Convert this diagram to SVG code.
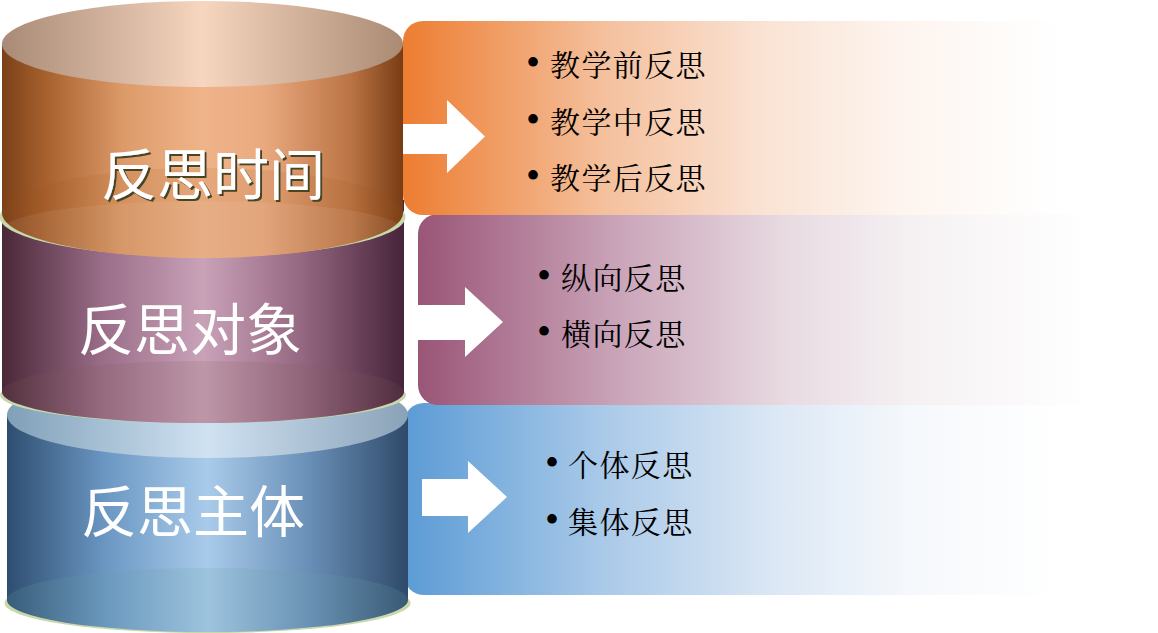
<svg xmlns="http://www.w3.org/2000/svg" width="1158" height="633" viewBox="0 0 1158 633">
<defs>
<style>
.lbl{font-family:"Noto Sans CJK SC","Noto Sans CJK JP",sans-serif;font-size:56px;fill:#ffffff;text-anchor:middle}
.item{font-family:"Liberation Serif","Noto Serif CJK SC","Noto Sans CJK SC",serif;font-size:40px;fill:#000000}
.item tspan{font-size:30px;letter-spacing:1.4px}
.rim{fill:#c9d8aa}
.arrow{fill:#ffffff}
</style>
<filter id="shd" x="-10%" y="-20%" width="130%" height="150%">
<feDropShadow dx="2" dy="2" stdDeviation="0.6" flood-color="#4a4520" flood-opacity="1"/>
</filter>
<linearGradient id="gOB" gradientUnits="userSpaceOnUse" x1="2" y1="0" x2="403" y2="0">
<stop offset="0" stop-color="#7a4018"/><stop offset="0.1" stop-color="#a45e2c"/><stop offset="0.3" stop-color="#dc9a68"/><stop offset="0.5" stop-color="#f0b48a"/><stop offset="0.65" stop-color="#eaaa80"/><stop offset="0.87" stop-color="#bb7444"/><stop offset="1" stop-color="#783c14"/>
</linearGradient>
<linearGradient id="gOT" gradientUnits="userSpaceOnUse" x1="2" y1="0" x2="403" y2="0">
<stop offset="0" stop-color="#a88a76"/><stop offset="0.5" stop-color="#f7d6bf"/><stop offset="1" stop-color="#aa8a72"/>
</linearGradient>
<linearGradient id="gPB" gradientUnits="userSpaceOnUse" x1="2" y1="0" x2="404" y2="0">
<stop offset="0" stop-color="#4a2838"/><stop offset="0.25" stop-color="#9a6d88"/><stop offset="0.5" stop-color="#c9a2b8"/><stop offset="0.75" stop-color="#946680"/><stop offset="1" stop-color="#46243a"/>
</linearGradient>
<linearGradient id="gBB" gradientUnits="userSpaceOnUse" x1="7" y1="0" x2="408" y2="0">
<stop offset="0" stop-color="#2e4e70"/><stop offset="0.25" stop-color="#6c98c4"/><stop offset="0.5" stop-color="#a9cbea"/><stop offset="0.75" stop-color="#6a90b8"/><stop offset="1" stop-color="#2f4a6a"/>
</linearGradient>
<linearGradient id="gBT" gradientUnits="userSpaceOnUse" x1="7" y1="0" x2="408" y2="0">
<stop offset="0" stop-color="#80a0b8"/><stop offset="0.5" stop-color="#d0e2f2"/><stop offset="1" stop-color="#8aa2b8"/>
</linearGradient>
<linearGradient id="gBoxO" gradientUnits="userSpaceOnUse" x1="403" y1="0" x2="1060" y2="0">
<stop offset="0" stop-color="#ed7d31"/><stop offset="0.3" stop-color="#f4bf9b"/><stop offset="0.55" stop-color="#fae3d4"/><stop offset="0.75" stop-color="#fdf4ee"/><stop offset="1" stop-color="#ffffff"/>
</linearGradient>
<linearGradient id="gBoxP" gradientUnits="userSpaceOnUse" x1="418" y1="0" x2="1090" y2="0">
<stop offset="0" stop-color="#9a5577"/><stop offset="0.3" stop-color="#caa5b9"/><stop offset="0.55" stop-color="#e8dbe2"/><stop offset="0.75" stop-color="#f6f2f4"/><stop offset="1" stop-color="#ffffff"/>
</linearGradient>
<linearGradient id="gBoxB" gradientUnits="userSpaceOnUse" x1="404" y1="0" x2="1060" y2="0">
<stop offset="0" stop-color="#5b9bd5"/><stop offset="0.3" stop-color="#a9c9e8"/><stop offset="0.57" stop-color="#dce8f5"/><stop offset="0.77" stop-color="#f5f8fc"/><stop offset="1" stop-color="#ffffff"/>
</linearGradient>
<clipPath id="cO"><ellipse cx="202.5" cy="213" rx="200.5" ry="45"/></clipPath>
</defs>

<g id="box-subject">
<rect x="404" y="403" width="660" height="192" rx="20" fill="url(#gBoxB)"/>
</g>
<g id="box-object">
<rect x="418" y="214" width="675" height="191" rx="20" fill="url(#gBoxP)"/>
</g>
<g id="box-time">
<rect x="403" y="21" width="660" height="194" rx="20" fill="url(#gBoxO)"/>
</g>

<g id="cyl-subject">
<ellipse class="rim" cx="207.5" cy="603" rx="203" ry="30"/>
<path d="M7,415 V600 A200.5,32 0 0 0 408,600 V415 Z" fill="url(#gBB)"/>
<ellipse cx="207.5" cy="600" rx="200.5" ry="32" fill="#6aa0a8" fill-opacity="0.18"/>
<ellipse cx="207.5" cy="415" rx="200.5" ry="43" fill="url(#gBT)"/>
<text class="lbl" x="193" y="532">反思主体</text>
</g>

<g id="cyl-object">
<ellipse class="rim" cx="203" cy="395" rx="203" ry="28"/>
<path d="M2,200 V392 A201,31 0 0 0 404,392 V200 Z" fill="url(#gPB)"/>
<ellipse cx="203" cy="392" rx="201" ry="31" fill="#806058" fill-opacity="0.16"/>
<text class="lbl" x="190" y="350">反思对象</text>
</g>

<g id="cyl-time">
<ellipse class="rim" cx="202.5" cy="217" rx="203" ry="40"/>
<path d="M2,44 V213 A200.5,45 0 0 0 403,213 V44 Z" fill="url(#gOB)"/>
<ellipse cx="202.5" cy="213" rx="200.5" ry="45" fill="#a0501a" fill-opacity="0.12"/>
<ellipse cx="202.5" cy="230" rx="200.5" ry="29" fill="#ffffff" fill-opacity="0.07" clip-path="url(#cO)"/>
<ellipse cx="202.5" cy="44" rx="200.5" ry="43" fill="url(#gOT)"/>
<text class="lbl" x="213" y="195" filter="url(#shd)">反思时间</text>
</g>

<g id="connectors">
<polygon class="arrow" points="403,124 447,124 447,100 485,136.5 447,173 447,154 403,154"/>
<polygon class="arrow" points="418,305 465,305 465,287 503,322 465,357 465,340 418,340"/>
<polygon class="arrow" points="422,479 468,479 468,461 507,497 468,533 468,516 422,516"/>
</g>

<g id="items-time">
<text class="item" x="526" y="76">•<tspan x="550">教学前反思</tspan></text>
<text class="item" x="526" y="133">•<tspan x="550">教学中反思</tspan></text>
<text class="item" x="526" y="189">•<tspan x="550">教学后反思</tspan></text>
</g>
<g id="items-object">
<text class="item" x="537" y="289">•<tspan x="561">纵向反思</tspan></text>
<text class="item" x="537" y="345">•<tspan x="561">横向反思</tspan></text>
</g>
<g id="items-subject">
<text class="item" x="545" y="476">•<tspan x="568">个体反思</tspan></text>
<text class="item" x="545" y="533">•<tspan x="568">集体反思</tspan></text>
</g>
</svg>
